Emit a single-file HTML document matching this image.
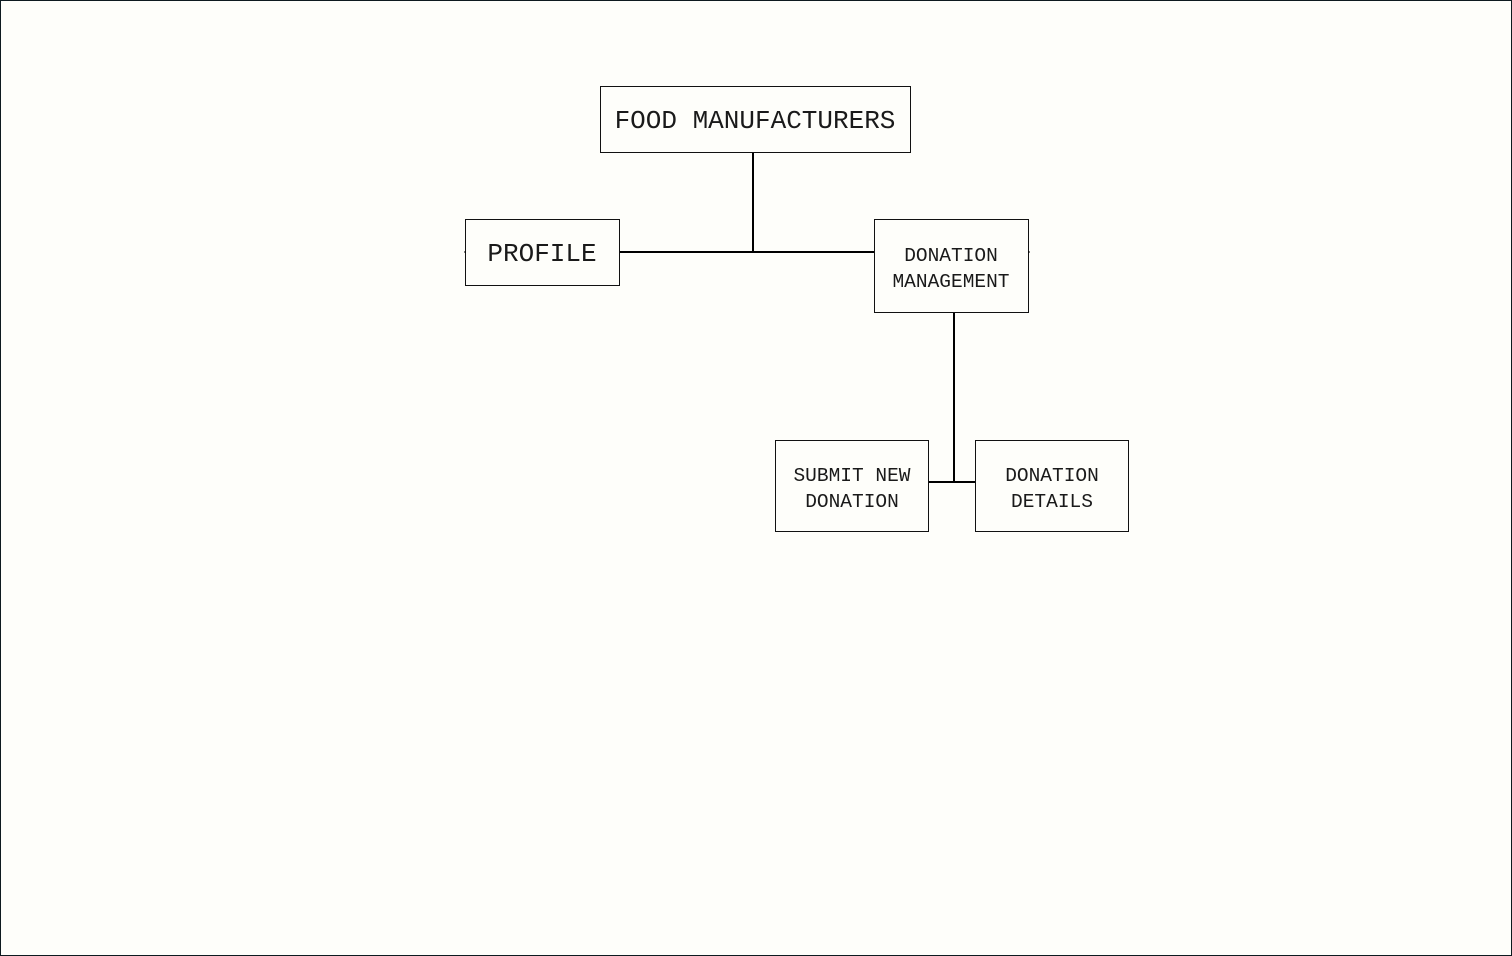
<!DOCTYPE html>
<html><head><meta charset="utf-8"><style>
html,body{margin:0;padding:0;background:#fefefa;}
svg{display:block;}
text{font-family:"Liberation Mono",monospace;fill:#1a1a1a;}
</style></head><body>
<svg width="1512" height="956" viewBox="0 0 1512 956" xmlns="http://www.w3.org/2000/svg">
<rect x="0.5" y="0.5" width="1511" height="955" fill="#fefefa" stroke="#0d1a1f" stroke-width="1"/>
<g fill="none" stroke="#000" stroke-width="2">
<line x1="753" y1="152" x2="753" y2="252"/>
<line x1="620" y1="252" x2="875" y2="252"/>
<line x1="954" y1="312" x2="954" y2="482"/>
<line x1="929" y1="482" x2="975" y2="482"/>
</g>
<g fill="#fefefa" stroke="#111" stroke-width="1">
<rect x="600.5" y="86.5" width="310" height="66"/>
<rect x="465.5" y="219.5" width="154" height="66"/>
<rect x="874.5" y="219.5" width="154" height="93"/>
<rect x="775.5" y="440.5" width="153" height="91"/>
<rect x="975.5" y="440.5" width="153" height="91"/>
</g>
<line x1="464" y1="252" x2="466" y2="252" stroke="#000" stroke-width="1"/>
<line x1="1028" y1="252" x2="1030" y2="252" stroke="#000" stroke-width="1"/>
<g text-anchor="middle">
<text x="755" y="128" font-size="26">FOOD MANUFACTURERS</text>
<text x="542" y="261" font-size="26">PROFILE</text>
<text x="951" y="261" font-size="19.5">DONATION</text>
<text x="951" y="287" font-size="19.5">MANAGEMENT</text>
<text x="852" y="481" font-size="19.5">SUBMIT NEW</text>
<text x="852" y="507" font-size="19.5">DONATION</text>
<text x="1052" y="481" font-size="19.5">DONATION</text>
<text x="1052" y="507" font-size="19.5">DETAILS</text>
</g>
</svg>
</body></html>
